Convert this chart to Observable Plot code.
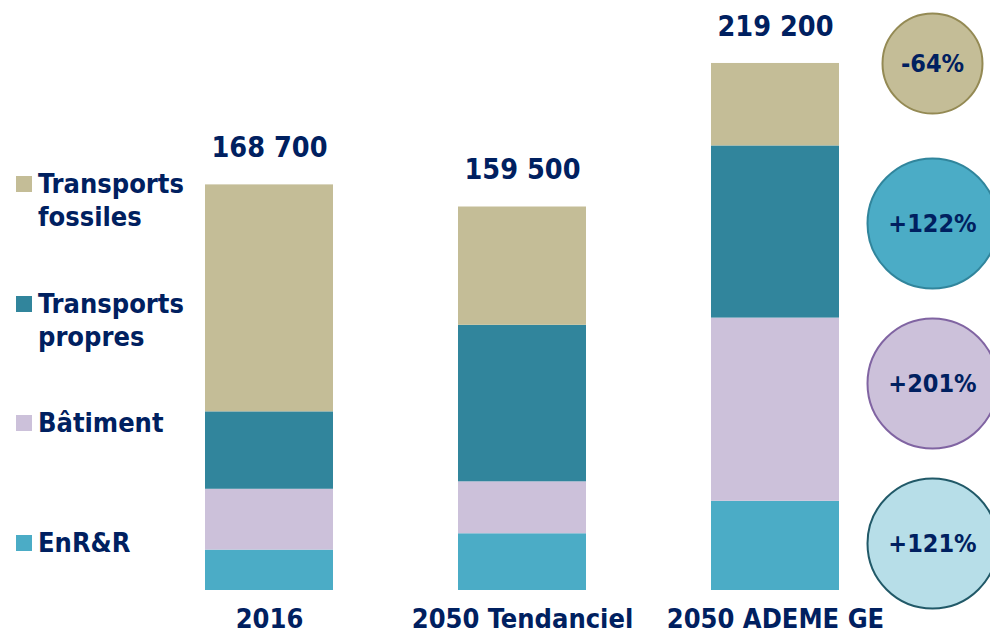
<!DOCTYPE html>
<html><head><meta charset="utf-8">
<script src="https://cdn.jsdelivr.net/npm/d3@7"></script>
<script src="https://cdn.jsdelivr.net/npm/@observablehq/plot@0.6"></script>
<style>
html,body{margin:0;padding:0;background:#fff;overflow:hidden;width:990px;height:632px}
body{position:relative;font-family:"DejaVu Sans Condensed","DejaVu Sans",sans-serif;font-weight:bold;color:#002060}
#chart{position:absolute;left:0;top:0}
#badges{position:absolute;left:880px;top:0}
#legend{position:absolute;left:16px;top:167px}
.item{position:absolute;left:0;white-space:nowrap}
.sw{position:absolute;left:0;top:9px;width:16px;height:16px}
.lab{position:absolute;left:22px;top:0;font-size:27px;line-height:33px;font-stretch:condensed}
</style></head><body>
<div id="chart"></div><div id="badges"></div><div id="legend"></div>
<script>
// ---- data ----
const scenarios = ["2016", "2050 Tendanciel", "2050 ADEME GE"];
const series = ["EnR&R", "Bâtiment", "Transports propres", "Transports fossiles"];
const enr = [16800, 23600, 37100];
const batiment = [25300, 21600, 76200];
const propres = [32200, 65100, 71600];
const fossiles = [94400, 49200, 34300];
const totals = [168700, 159500, 219200];
const legendOrder = ["Transports fossiles", "Transports propres", "Bâtiment", "EnR&R"];
const legendLabels = ["Transports\nfossiles", "Transports\npropres", "Bâtiment", "EnR&R"];
const badgeSeries = ["Transports fossiles", "Transports propres", "Bâtiment", "EnR&R"];
const badgeLabels = ["-64%", "+122%", "+201%", "+121%"];

// ---- styles ----
const FONT = '"DejaVu Sans Condensed","DejaVu Sans",sans-serif';
const NAVY = "#002060";
const seriesColors = {"EnR&R": "#4BACC6", "Bâtiment": "#CCC1DA", "Transports propres": "#31859C", "Transports fossiles": "#C4BD97"};
const badgeStyle = {
  "Transports fossiles": {fill: "#C4BD97", stroke: "#948A54", r: 50},
  "Transports propres": {fill: "#4BACC6", stroke: "#31859C", r: 65},
  "Bâtiment": {fill: "#CCC1DA", stroke: "#8064A2", r: 65},
  "EnR&R": {fill: "#B7DEE8", stroke: "#215968", r: 65}
};

const valuesBySeries = {"EnR&R": enr, "Bâtiment": batiment, "Transports propres": propres, "Transports fossiles": fossiles};
const table = series.flatMap(s => scenarios.map((sc, i) => ({scenario: sc, series: s, value: valuesBySeries[s][i]})));
const totalRows = scenarios.map((sc, i) => ({scenario: sc, total: totals[i]}));
const fmt = v => d3.format(",")(v).replace(/,/g, " ");

const chart = Plot.plot({
  width: 990, height: 632,
  marginLeft: 80, marginRight: 26, marginTop: 37, marginBottom: 42,
  style: {fontFamily: FONT, background: "transparent", overflow: "visible"},
  x: {domain: scenarios, padding: 0.494},
  y: {domain: [0, 230000], axis: null},
  color: {domain: series, range: series.map(s => seriesColors[s])},
  marks: [
    Plot.barY(table, {x: "scenario", y: "value", fill: "series"}),
    Plot.text(totalRows, {x: "scenario", y: "total", text: d => fmt(d.total), dy: -37, fontSize: 28.5, fontWeight: "bold", fill: NAVY}),
    Plot.axisX({tickSize: 0, tickPadding: 18, fontSize: 27, fontWeight: "bold", fill: NAVY, label: null})
  ]
});
document.getElementById("chart").append(chart);

const badgeRows = badgeSeries.map((s, i) => ({series: s, label: badgeLabels[i]}));
const badges = Plot.plot({
  width: 104, height: 632, margin: 0,
  style: {fontFamily: FONT, background: "transparent", overflow: "visible"},
  y: {type: "point", domain: badgeSeries, range: [63, 543], padding: 0, axis: null},
  marks: [
    Plot.dot(badgeRows, {y: "series", r: d => badgeStyle[d.series].r, fill: d => badgeStyle[d.series].fill, stroke: d => badgeStyle[d.series].stroke, strokeWidth: 2}),
    Plot.text(badgeRows, {y: "series", text: "label", fontSize: 25, fontWeight: "bold", fill: NAVY})
  ],
  r: {type: "identity"},
  color: {type: "identity"}
});
document.getElementById("badges").append(badges);

const legend = document.getElementById("legend");
legendOrder.forEach((s, i) => {
  const item = document.createElement("div");
  item.className = "item";
  item.style.top = (i * 119.5) + "px";
  const sw = document.createElement("div");
  sw.className = "sw";
  sw.style.background = seriesColors[s];
  const lab = document.createElement("div");
  lab.className = "lab";
  lab.innerHTML = legendLabels[i].replace("\n", "<br>");
  item.append(sw, lab);
  legend.append(item);
});
</script>
</body></html>
